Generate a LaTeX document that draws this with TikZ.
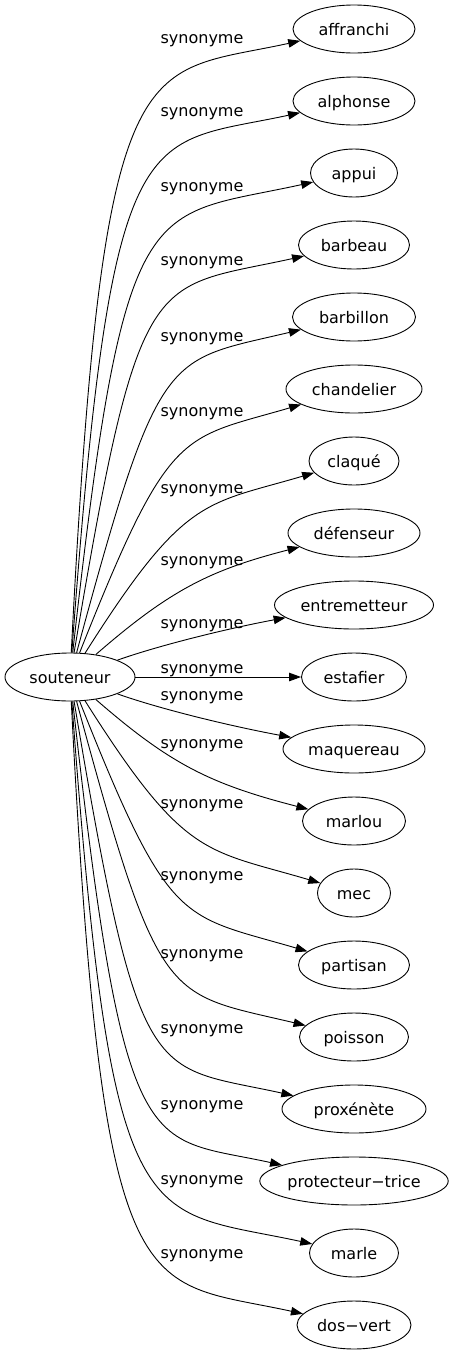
\documentclass[tikz,border=0pt]{standalone}
\usepackage{fontspec}
\setmainfont{DejaVu Sans}
\usetikzlibrary{shapes.geometric,arrows.meta}
\newcommand{\edgewidth}{0.9pt}
\newcommand{\wordheight}{48pt}
\newcommand{\wordfont}{\fontsize{16pt}{19pt}\selectfont}
\tikzset{
  word/.style={draw, ellipse, line width=\edgewidth, inner sep=0pt, minimum height=\wordheight, text height=14pt, text depth=2pt, font=\wordfont},
  rel/.style={inner sep=0pt, text height=14pt, text depth=2pt, font=\wordfont},
  syn/.style={draw, line width=\edgewidth, -{Triangle[length=12pt,width=8.5pt]}}
}

\begin{document}
\begin{tikzpicture}[x=1pt,y=-1pt]
\useasboundingbox (0,0) rectangle (453,1355);
%souteneur
\node[word, minimum width=130pt] (0) at (70,677) {souteneur};
%synonymes
\node[word, minimum width=122pt] (1) at (354,29) {affranchi};
\node[word, minimum width=122pt] (2) at (354,101) {alphonse};
\node[word, minimum width=87pt] (3) at (354,173) {appui};
\node[word, minimum width=111pt] (4) at (354,245) {barbeau};
\node[word, minimum width=123pt] (5) at (354,317) {barbillon};
\node[word, minimum width=136pt] (6) at (354,389) {chandelier};
\node[word, minimum width=90pt] (7) at (354,461) {claqué};
\node[word, minimum width=132pt] (8) at (354,533) {défenseur};
\node[word, minimum width=159pt] (9) at (354,605) {entremetteur};
\node[word, minimum width=105pt] (10) at (354,677) {estafier};
\node[word, minimum width=142pt] (11) at (354,749) {maquereau};
\node[word, minimum width=103pt] (12) at (354,821) {marlou};
\node[word, minimum width=73pt] (13) at (354,893) {mec};
\node[word, minimum width=111pt] (14) at (354,965) {partisan};
\node[word, minimum width=109pt] (15) at (354,1037) {poisson};
\node[word, minimum width=144pt] (16) at (354,1109) {proxénète};
\node[word, minimum width=186pt] (17) at (354,1181) {protecteur−trice};
\node[word, minimum width=89pt] (18) at (354,1253) {marle};
\node[word, minimum width=114pt] (19) at (354,1325) {dos−vert};
%edges up
\draw[syn] (0) .. controls (103,33) and (140,76) .. (1);
\draw[syn] (0) .. controls (112,107) and (142,147) .. (2);
\draw[syn] (0) .. controls (125,182) and (146,219) .. (3);
\draw[syn] (0) .. controls (140,260) and (150,290) .. (4);
\draw[syn] (0) .. controls (160,345) and (165,362) .. (5);
\draw[syn] (0) .. controls (170,425) and (180,440) .. (6);
\draw[syn] (0) .. controls (185,495) and (205,505) .. (7);
\draw[syn] (0) .. controls (170,590) and (210,570) .. (8);
\draw[syn] (0) .. controls (160,645) and (230,628) .. (9);
\draw[syn] (0) -- (10);
%edges down
\draw[syn] (0) .. controls (160,709) and (230,726) .. (11);
\draw[syn] (0) .. controls (170,764) and (210,784) .. (12);
\draw[syn] (0) .. controls (185,859) and (205,849) .. (13);
\draw[syn] (0) .. controls (170,929) and (180,914) .. (14);
\draw[syn] (0) .. controls (160,1009) and (165,992) .. (15);
\draw[syn] (0) .. controls (140,1094) and (150,1064) .. (16);
\draw[syn] (0) .. controls (125,1172) and (146,1135) .. (17);
\draw[syn] (0) .. controls (112,1247) and (142,1207) .. (18);
\draw[syn] (0) .. controls (103,1321) and (140,1278) .. (19);
%labels
\node[rel] (l1) at (202,37) {synonyme};
\node[rel] (l2) at (202,110) {synonyme};
\node[rel] (l3) at (202,185) {synonyme};
\node[rel] (l4) at (202,259) {synonyme};
\node[rel] (l5) at (202,335) {synonyme};
\node[rel] (l6) at (202,410) {synonyme};
\node[rel] (l7) at (202,487) {synonyme};
\node[rel] (l8) at (202,559) {synonyme};
\node[rel] (l9) at (202,622) {synonyme};
\node[rel] (l10) at (202,667) {synonyme};
\node[rel] (l11) at (202,694) {synonyme};
\node[rel] (l12) at (202,742) {synonyme};
\node[rel] (l13) at (202,802) {synonyme};
\node[rel] (l14) at (202,874) {synonyme};
\node[rel] (l15) at (202,952) {synonyme};
\node[rel] (l16) at (202,1027) {synonyme};
\node[rel] (l17) at (202,1103) {synonyme};
\node[rel] (l18) at (202,1178) {synonyme};
\node[rel] (l19) at (202,1252) {synonyme};
\end{tikzpicture}
\end{document}
